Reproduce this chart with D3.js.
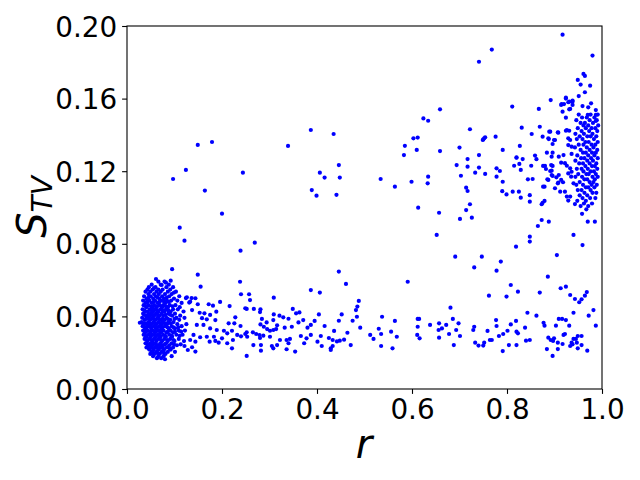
<!DOCTYPE html>
<html><head><meta charset="utf-8">
<script src="https://cdn.jsdelivr.net/npm/d3@7"></script>
<style>body{margin:0;background:#fff}svg{display:block}</style>
</head><body><svg id="c" width="640" height="480"></svg>
<script>
// ---- data (r, S_TV) ----
const xTicks = [0, 0.2, 0.4, 0.6, 0.8, 1.0];
const yTicks = [0, 0.04, 0.08, 0.12, 0.16, 0.20];

// dense cluster at small r, listed row by row: [S_TV, [r values]]
const denseRows = [
 [0.0592,[0.066,0.079]],
 [0.0575,[0.052,0.071,0.088]],
 [0.0561,[0.046,0.060,0.083,0.097]],
 [0.0548,[0.043,0.054,0.066,0.075,0.091]],
 [0.0536,[0.039,0.049,0.062,0.071,0.086,0.103]],
 [0.0523,[0.045,0.057,0.067,0.080,0.094]],
 [0.0511,[0.036,0.050,0.061,0.074,0.089,0.110]],
 [0.0498,[0.042,0.055,0.068,0.078,0.099]],
 [0.0487,[0.034,0.047,0.059,0.072,0.084,0.093,0.106]],
 [0.0474,[0.039,0.052,0.064,0.081,0.115]],
 [0.0462,[0.035,0.045,0.057,0.069,0.077,0.090,0.102]],
 [0.0451,[0.041,0.053,0.062,0.074,0.086,0.111]],
 [0.0439,[0.033,0.048,0.058,0.070,0.082,0.097,0.107]],
 [0.0427,[0.038,0.044,0.055,0.066,0.079,0.092,0.119]],
 [0.0415,[0.034,0.050,0.061,0.073,0.087,0.101]],
 [0.0404,[0.040,0.047,0.057,0.068,0.076,0.095,0.112]],
 [0.0392,[0.032,0.043,0.053,0.064,0.083,0.104,0.121]],
 [0.0381,[0.037,0.049,0.060,0.071,0.079,0.091,0.110]],
 [0.0369,[0.031,0.045,0.056,0.066,0.075,0.087,0.098]],
 [0.0357,[0.036,0.042,0.052,0.062,0.073,0.084,0.106,0.125]],
 [0.0346,[0.033,0.047,0.058,0.069,0.080,0.094,0.115]],
 [0.0334,[0.039,0.051,0.061,0.072,0.088,0.101]],
 [0.0322,[0.034,0.044,0.055,0.066,0.077,0.092,0.109,0.122]],
 [0.0311,[0.038,0.049,0.059,0.070,0.083,0.097]],
 [0.0299,[0.035,0.045,0.054,0.065,0.076,0.089,0.104,0.117]],
 [0.0288,[0.041,0.050,0.061,0.071,0.082,0.095]],
 [0.0276,[0.037,0.047,0.057,0.067,0.079,0.091,0.109]],
 [0.0264,[0.043,0.053,0.062,0.074,0.086,0.100,0.120]],
 [0.0252,[0.039,0.049,0.058,0.070,0.082,0.094]],
 [0.0241,[0.045,0.054,0.065,0.076,0.089,0.105]],
 [0.0229,[0.041,0.050,0.060,0.071,0.084,0.097]],
 [0.0217,[0.047,0.056,0.067,0.078,0.092]],
 [0.0205,[0.052,0.062,0.073,0.086,0.101]],
 [0.0193,[0.049,0.058,0.069,0.081]],
 [0.0181,[0.055,0.066,0.077,0.094]],
 [0.0170,[0.063,0.072]]
];
// extra points inside the dense core
const denseCoreRows = [
 [0.0505,[0.046,0.064,0.084]],
 [0.0480,[0.043,0.056,0.068,0.078,0.088]],
 [0.0456,[0.040,0.051,0.063,0.073,0.082,0.096]],
 [0.0433,[0.037,0.052,0.063,0.075,0.087]],
 [0.0409,[0.036,0.044,0.054,0.065,0.081,0.091]],
 [0.0386,[0.040,0.047,0.056,0.067,0.075,0.086,0.100]],
 [0.0362,[0.034,0.039,0.049,0.059,0.070,0.080,0.092]],
 [0.0340,[0.037,0.042,0.052,0.064,0.075,0.085,0.098,0.108]],
 [0.0316,[0.040,0.050,0.061,0.072,0.086,0.101,0.114]],
 [0.0293,[0.039,0.050,0.059,0.069,0.080,0.094,0.111]],
 [0.0270,[0.042,0.052,0.062,0.072,0.085,0.098]],
 [0.0246,[0.043,0.051,0.061,0.071,0.080,0.099,0.113]],
 [0.0223,[0.046,0.055,0.065,0.076,0.090]],
 [0.0199,[0.055,0.064,0.078]]
];
const denseEdge = [[0.061,0.0606],[0.092,0.0597],[0.082,0.0586],[0.073,0.0573],[0.057,0.0556],[0.099,0.0531],
 [0.041,0.0496],[0.027,0.0365],[0.080,0.0164],[0.055,0.0198]];

// lower band, r 0.1 - 0.62
const lowBandLeft = [
 [0.095,0.066],[0.149,0.063],[0.155,0.0564],[0.196,0.048],[0.216,0.0457],[0.172,0.0467],[0.181,0.0459],[0.149,0.0467],
 [0.126,0.0505],[0.133,0.0481],[0.144,0.05],[0.137,0.0435],[0.153,0.042],[0.163,0.0417],[0.175,0.0408],[0.188,0.0426],
 [0.158,0.039],[0.168,0.0384],[0.186,0.038],[0.214,0.0362],[0.228,0.0395],[0.226,0.0362],[0.239,0.0347],[0.249,0.0445],
 [0.147,0.0353],[0.161,0.0353],[0.175,0.0334],[0.189,0.0325],[0.204,0.0321],[0.211,0.0307],[0.221,0.0321],[0.232,0.0298],
 [0.223,0.027],[0.2,0.0279],[0.183,0.0288],[0.168,0.0288],[0.154,0.0285],[0.14,0.0298],[0.144,0.0261],[0.133,0.027],
 [0.174,0.0261],[0.186,0.0265],[0.193,0.0255],[0.211,0.0252],[0.221,0.0224],[0.137,0.023],[0.128,0.0215],[0.144,0.0206],
 [0.121,0.0237],[0.249,0.0303],[0.131,0.0476],[0.136,0.0501],[0.124,0.0501],
 [0.446,0.0647],[0.461,0.0579],[0.591,0.0591],[0.238,0.0591],[0.240,0.0522],[0.257,0.0522],[0.259,0.049],[0.309,0.0503],
 [0.387,0.0545],[0.406,0.0531],[0.488,0.0485],[0.485,0.0454],[0.482,0.0435],[0.252,0.0441],[0.267,0.0441],[0.281,0.0439],
 [0.28,0.0424],[0.349,0.0441],[0.356,0.0417],[0.363,0.0422],[0.309,0.0411],[0.321,0.0404],[0.329,0.0395],[0.340,0.0387],
 [0.404,0.0411],[0.452,0.0411],[0.484,0.0398],[0.537,0.0398],[0.284,0.0386],[0.308,0.038],[0.371,0.038],[0.446,0.0376],
 [0.475,0.0376],[0.564,0.0375],[0.612,0.0386],[0.294,0.0367],[0.281,0.0356],[0.316,0.0351],[0.332,0.0338],[0.347,0.0343],
 [0.361,0.0367],[0.387,0.0353],[0.395,0.0375],[0.38,0.0338],[0.416,0.0347],[0.436,0.032],[0.491,0.0338],[0.53,0.0332],
 [0.556,0.0316],[0.612,0.0343],[0.288,0.0343],[0.295,0.033],[0.301,0.0321],[0.308,0.0325],[0.314,0.033],[0.265,0.0312],
 [0.272,0.0303],[0.279,0.0297],[0.287,0.0294],[0.252,0.0312],[0.240,0.029],[0.253,0.0288],[0.28,0.0281],[0.301,0.0288],
 [0.322,0.027],[0.336,0.027],[0.343,0.0276],[0.366,0.0292],[0.378,0.0279],[0.387,0.0298],[0.408,0.0292],[0.401,0.0261],
 [0.425,0.0281],[0.433,0.027],[0.442,0.0262],[0.448,0.0266],[0.457,0.0272],[0.464,0.031],[0.512,0.0298],[0.519,0.0276],
 [0.535,0.0303],[0.568,0.0288],[0.611,0.0298],[0.266,0.0242],[0.282,0.0242],[0.305,0.0237],[0.282,0.0211],[0.308,0.0224],
 [0.316,0.0242],[0.336,0.0219],[0.354,0.0206],[0.34,0.0252],[0.373,0.0252],[0.41,0.0237],[0.429,0.0224],[0.433,0.0237],
 [0.429,0.0215],[0.471,0.0242],[0.535,0.0237],[0.559,0.0224],[0.252,0.0182]
];

// lower band, r 0.6 - 1.0
const lowBandRight = [
 [0.731,0.067],[0.787,0.0702],[0.778,0.0652],[0.886,0.0619],[0.808,0.0573],[0.823,0.0536],[0.762,0.0514],[0.799,0.0509],
 [0.869,0.0531],[0.913,0.0555],[0.924,0.0564],[0.933,0.0518],[0.943,0.0496],[0.952,0.0478],[0.957,0.0494],[0.964,0.0514],
 [0.968,0.0534],[0.681,0.0448],[0.843,0.042],[0.862,0.0404],[0.94,0.042],[0.982,0.0435],[0.972,0.0404],[0.987,0.0349],
 [0.686,0.0386],[0.698,0.0362],[0.672,0.0353],[0.657,0.0362],[0.638,0.0353],[0.663,0.0334],[0.656,0.0325],[0.693,0.0325],
 [0.701,0.0292],[0.678,0.0303],[0.616,0.0279],[0.657,0.0283],[0.688,0.0242],[0.731,0.0343],[0.729,0.0325],[0.759,0.032],
 [0.777,0.038],[0.778,0.0347],[0.783,0.0292],[0.792,0.0303],[0.801,0.0321],[0.808,0.0356],[0.819,0.0375],[0.82,0.0316],
 [0.823,0.0307],[0.838,0.0338],[0.764,0.027],[0.768,0.027],[0.733,0.0255],[0.74,0.0239],[0.75,0.0239],[0.752,0.0255],
 [0.804,0.0242],[0.82,0.0242],[0.791,0.0209],[0.84,0.0266],[0.848,0.027],[0.877,0.0365],[0.879,0.0349],[0.903,0.0349],
 [0.909,0.0386],[0.916,0.0386],[0.924,0.038],[0.931,0.0349],[0.887,0.0283],[0.892,0.027],[0.897,0.0265],[0.899,0.0279],
 [0.907,0.0255],[0.919,0.0298],[0.922,0.0303],[0.94,0.0276],[0.945,0.0276],[0.936,0.0255],[0.933,0.0237],[0.938,0.0246],
 [0.949,0.0292],[0.957,0.0292],[0.947,0.0255],[0.957,0.0242],[0.949,0.0224],[0.969,0.0211],[0.884,0.022],[0.907,0.022],
 [0.896,0.0182],[0.917,0.0248],[0.615,0.0386]
];

// sparse upper points, r < 0.5
const upperLeft = [
 [0.387,0.1427],[0.435,0.1405],[0.339,0.1339],[0.149,0.1345],[0.179,0.1361],[0.446,0.1234],[0.406,0.1192],[0.416,0.1165],
 [0.448,0.1165],[0.389,0.1096],[0.399,0.1065],[0.441,0.107],[0.244,0.1192],[0.124,0.1207],[0.097,0.1157],[0.164,0.1093],
 [0.2,0.0966],[0.111,0.0889],[0.121,0.0817],[0.269,0.0806],[0.239,0.0762]
];

// upper points, r 0.5 - 0.93
const upperRight = [
 [0.917,0.1952],[0.98,0.1837],[0.768,0.187],[0.741,0.1803],[0.961,0.1736],[0.964,0.1725],[0.949,0.1703],[0.955,0.1677],
 [0.975,0.1671],[0.964,0.1635],[0.951,0.1614],[0.892,0.1592],[0.924,0.1605],[0.914,0.1565],[0.92,0.157],[0.929,0.158],
 [0.938,0.1583],[0.938,0.1565],[0.917,0.1528],[0.931,0.1541],[0.924,0.1495],[0.959,0.1559],[0.971,0.1552],[0.977,0.1574],
 [0.987,0.1537],[0.97,0.151],[0.987,0.151],[0.987,0.1477],[0.811,0.1556],[0.867,0.1543],[0.831,0.144],[0.869,0.1445],
 [0.852,0.1405],[0.891,0.1418],[0.908,0.1412],[0.875,0.139],[0.887,0.1381],[0.899,0.1372],[0.924,0.1423],[0.931,0.1423],
 [0.929,0.1381],[0.659,0.1541],[0.624,0.1491],[0.634,0.1478],[0.722,0.1431],
 [0.603,0.1381],[0.612,0.1385],[0.752,0.1381],[0.776,0.139],
 [0.585,0.134],[0.583,0.1289],[0.61,0.1317],[0.659,0.1311],[0.70,0.133],[0.749,0.1372],[0.827,0.1339],[0.791,0.1317],
 [0.694,0.1234],[0.717,0.1267],[0.741,0.1289],[0.717,0.1225],[0.741,0.122],[0.733,0.1192],[0.754,0.1185],[0.703,0.1175],
 [0.778,0.117],[0.785,0.1201],[0.791,0.1142],[0.82,0.1276],[0.833,0.1267],[0.826,0.124],[0.815,0.123],[0.829,0.1207],
 [0.851,0.123],[0.859,0.1286],[0.862,0.1266],[0.884,0.1302],[0.896,0.1302],[0.896,0.135],[0.893,0.1234],[0.88,0.1229],
 [0.882,0.1212],[0.894,0.1203],[0.844,0.1155],[0.854,0.1157],[0.876,0.1115],[0.879,0.1115],[0.887,0.1152],[0.896,0.1174],
 [0.904,0.1166],[0.901,0.1106],[0.908,0.1137],[0.912,0.1087],[0.778,0.1216],[0.79,0.109],[0.799,0.1072],[0.812,0.1087],
 [0.825,0.1087],[0.829,0.1054],[0.848,0.1068],[0.848,0.1032],[0.875,0.1026],[0.879,0.1036],[0.534,0.1157],[0.564,0.1115],
 [0.599,0.1142],[0.634,0.117],[0.633,0.1133],[0.613,0.0999],[0.657,0.0971],[0.714,0.1109],[0.717,0.1091],[0.722,0.1018],
 [0.714,0.0986],[0.701,0.0937],[0.726,0.0944],[0.652,0.0849],[0.873,0.0931],[0.888,0.0922],[0.865,0.0898],[0.848,0.0839],
 [0.848,0.0812],[0.819,0.0784],[0.94,0.0849],[0.959,0.0793],[0.905,0.0738],[0.97,0.0922],[0.985,0.0922],[0.691,0.0729],
 [0.747,0.0729],
 [0.889,0.1418],[0.888,0.1377],[0.901,0.1372],[0.75,0.1375],[0.754,0.1387],[0.894,0.128],[0.82,0.1274],[0.876,0.1229],
 [0.896,0.1229],[0.891,0.1201],[0.894,0.1179],[0.885,0.1155],[0.873,0.1018]
];

// right-hand cluster near r = 1
const rightEdge = [
 [0.924,0.160],[0.915,0.157],[0.931,0.1583],[0.938,0.1589],[0.933,0.1543],[0.926,0.1427],[0.907,0.1414],[0.933,0.1372],
 [0.929,0.1344],[0.936,0.1335],[0.909,0.128],[0.919,0.1289],[0.936,0.1295],[0.914,0.1247],[0.922,0.1244],[0.926,0.123],
 [0.933,0.1216],[0.936,0.1197],[0.909,0.1179],[0.914,0.1152],[0.907,0.1133],[0.918,0.1139],[0.929,0.1188],[0.935,0.117],
 [0.94,0.1133],[0.922,0.1087],[0.926,0.106],[0.933,0.106],[0.929,0.1038],[0.943,0.1019]
];
const rightRows = [
 [0.1512,[0.951,0.976,0.991]],
 [0.1496,[0.958,0.968,0.984]],
 [0.1481,[0.946,0.974,0.989]],
 [0.1466,[0.955,0.964,0.981]],
 [0.1452,[0.961,0.971,0.992]],
 [0.1437,[0.949,0.966,0.978,0.986]],
 [0.1421,[0.957,0.973,0.990]],
 [0.1406,[0.944,0.962,0.980]],
 [0.1392,[0.953,0.969,0.976,0.988]],
 [0.1377,[0.947,0.959,0.983]],
 [0.1361,[0.965,0.972,0.991]],
 [0.1346,[0.951,0.961,0.978,0.986]],
 [0.1331,[0.943,0.968,0.982]],
 [0.1317,[0.955,0.974,0.990]],
 [0.1302,[0.960,0.966,0.979,0.987]],
 [0.1287,[0.948,0.971,0.984]],
 [0.1272,[0.956,0.963,0.977,0.991]],
 [0.1258,[0.944,0.969,0.981]],
 [0.1243,[0.952,0.960,0.974,0.988]],
 [0.1228,[0.965,0.979,0.985]],
 [0.1213,[0.947,0.957,0.970,0.990]],
 [0.1199,[0.961,0.976,0.983]],
 [0.1184,[0.950,0.967,0.972,0.987]],
 [0.1169,[0.944,0.958,0.980,0.991]],
 [0.1155,[0.963,0.969,0.985]],
 [0.1140,[0.953,0.974,0.982]],
 [0.1125,[0.946,0.960,0.978,0.989]],
 [0.1111,[0.966,0.971,0.984]],
 [0.1096,[0.949,0.957,0.976]],
 [0.1081,[0.963,0.980,0.988]],
 [0.1067,[0.953,0.969]],
 [0.1052,[0.959,0.975,0.986]],
 [0.1037,[0.948,0.966]],
 [0.1022,[0.962,0.979]],
 [0.1008,[0.955,0.971]],
 [0.0990,[0.967]],
 [0.0965,[0.958]]
];

// ---- build ----
const fromRows = rows => rows.flatMap(([s, rs]) => rs.map(r => [r, s]));
const points = [].concat(fromRows(denseRows), fromRows(denseCoreRows), denseEdge, lowBandLeft, lowBandRight,
  upperLeft, upperRight, rightEdge, fromRows(rightRows));

const x = d3.scaleLinear().domain([0, 1]).range([127, 602]);
const y = d3.scaleLinear().domain([0, 0.2]).range([389, 26]);
const svg = d3.select('#c');
svg.append('rect').attr('width',640).attr('height',480).attr('fill','#fff');

svg.append('g').selectAll('circle').data(points).join('circle')
  .attr('cx', d => x(d[0])).attr('cy', d => y(d[1])).attr('r', 2.1).attr('fill', '#0000ff');

const FONT = '"DejaVu Sans", sans-serif';
const gx = svg.append('g').attr('transform','translate(0,389)')
  .call(d3.axisBottom(x).tickValues(xTicks).tickFormat(d3.format('.1f')).tickSize(4.9).tickPadding(4.9).tickSizeOuter(0));
const gy = svg.append('g').attr('transform','translate(127,0)')
  .call(d3.axisLeft(y).tickValues(yTicks).tickFormat(d3.format('.2f')).tickSize(4.9).tickPadding(4.9).tickSizeOuter(0));
[gx, gy].forEach(g => {
  g.select('.domain').remove();
  g.selectAll('line').attr('stroke','#000').attr('stroke-width',1.1);
  g.selectAll('text').attr('font-family',FONT).attr('font-size','27.8px').attr('fill','#000');
});
gy.selectAll('text').attr('dy','0.36em');

svg.append('rect').attr('x',127).attr('y',26).attr('width',475).attr('height',363)
  .attr('fill','none').attr('stroke','#000').attr('stroke-width',1.1);

svg.append('text').attr('x',364).attr('y',458).attr('text-anchor','middle')
  .attr('font-family',FONT).attr('font-style','italic').attr('font-size','40px').text('r');

const yl = svg.append('text').attr('transform','translate(46,207) rotate(-90)').attr('text-anchor','middle')
  .attr('font-family',FONT).attr('font-style','italic').attr('font-size','40px');
yl.append('tspan').text('S');
yl.append('tspan').attr('font-size','28px').attr('dy','6').text('TV');
</script></body></html>
